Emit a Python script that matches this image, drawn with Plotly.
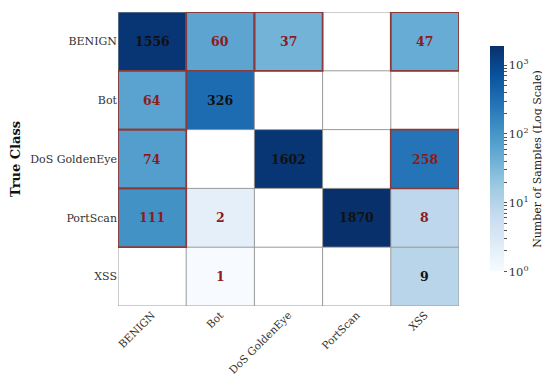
import numpy as np
import plotly.graph_objects as go

classes = ["BENIGN", "Bot", "DoS GoldenEye", "PortScan", "XSS"]
row_benign = [1556, 60, 37, 0, 47]
row_bot = [64, 326, 0, 0, 0]
row_dos = [74, 0, 1602, 0, 258]
row_portscan = [111, 2, 0, 1870, 8]
row_xss = [0, 1, 0, 0, 9]
counts = np.array([row_benign, row_bot, row_dos, row_portscan, row_xss], dtype=float)
highlight_min = 10

n = len(classes)
z = np.where(counts > 0, np.log10(np.where(counts > 0, counts, 1)), np.nan)

blues = ["rgb(247,251,255)", "rgb(222,235,247)", "rgb(198,219,239)", "rgb(158,202,225)",
         "rgb(107,174,214)", "rgb(66,146,198)", "rgb(33,113,181)", "rgb(8,81,156)", "rgb(8,48,107)"]
cscale = [[i / (len(blues) - 1), c] for i, c in enumerate(blues)]

major = [0, 1, 2, 3]
minor = [np.log10(m * 10 ** d) for d in range(4) for m in range(2, 10) if m * 10 ** d <= counts.max()]
tickvals = major + minor
ticktext = ["10<sup>%d</sup>" % d for d in major] + [""] * len(minor)

serif = "DejaVu Serif"
fig = go.Figure(go.Heatmap(
    z=z, x=list(range(n)), y=list(range(n)),
    colorscale=cscale, zmin=0, zmax=np.log10(counts.max()),
    hoverongaps=False,
    colorbar=dict(
        x=1.062, xanchor="left", y=0.5, yanchor="middle", len=0.833, lenmode="fraction",
        thickness=14, outlinewidth=0, ticks="outside", ticklen=3, tickcolor="#555",
        tickvals=tickvals, ticktext=ticktext,
        tickfont=dict(family=serif, size=11.5, color="#333"),
        title=dict(text="Number of Samples (Log Scale)", side="right",
                   font=dict(family=serif, size=11, color="#222")),
    ),
))

shapes = []
for k in range(n + 1):
    shapes.append(dict(type="line", xref="x", yref="y", x0=k - 0.5, x1=k - 0.5, y0=-0.5, y1=n - 0.5,
                       line=dict(color="#999", width=1)))
    shapes.append(dict(type="line", xref="x", yref="y", y0=k - 0.5, y1=k - 0.5, x0=-0.5, x1=n - 0.5,
                       line=dict(color="#999", width=1)))
annotations = []
for i in range(n):
    for j in range(n):
        v = counts[i, j]
        if v <= 0:
            continue
        diag = i == j
        annotations.append(dict(x=j, y=i, xref="x", yref="y", text="<b>%d</b>" % v, showarrow=False,
                                font=dict(family=serif, size=12.5, color="#111" if diag else "#8b1c1c")))
        if not diag and v >= highlight_min:
            shapes.append(dict(type="rect", xref="x", yref="y", x0=j - 0.5, x1=j + 0.5, y0=i - 0.5, y1=i + 0.5,
                               line=dict(color="#8b3a3a", width=1.8)))

fig.update_layout(
    width=542, height=370, margin=dict(l=110, r=91, t=4, b=72, autoexpand=False),
    paper_bgcolor="white", plot_bgcolor="white",
    shapes=shapes, annotations=annotations,
    xaxis=dict(tickvals=list(range(n)), ticktext=classes, tickangle=-45, range=[-0.5, n - 0.5],
               showgrid=False, zeroline=False, ticks="", automargin=False,
               tickfont=dict(family=serif, size=10.5, color="#333")),
    yaxis=dict(tickvals=list(range(n)), ticktext=classes, range=[n - 0.5, -0.5],
               showgrid=False, zeroline=False, ticks="", ticklen=0, automargin=False,
               title=dict(text="<b>True Class</b>", font=dict(family=serif, size=13, color="#111"), standoff=11),
               tickfont=dict(family=serif, size=11, color="#333")),
)
fig.write_html("out.html")
